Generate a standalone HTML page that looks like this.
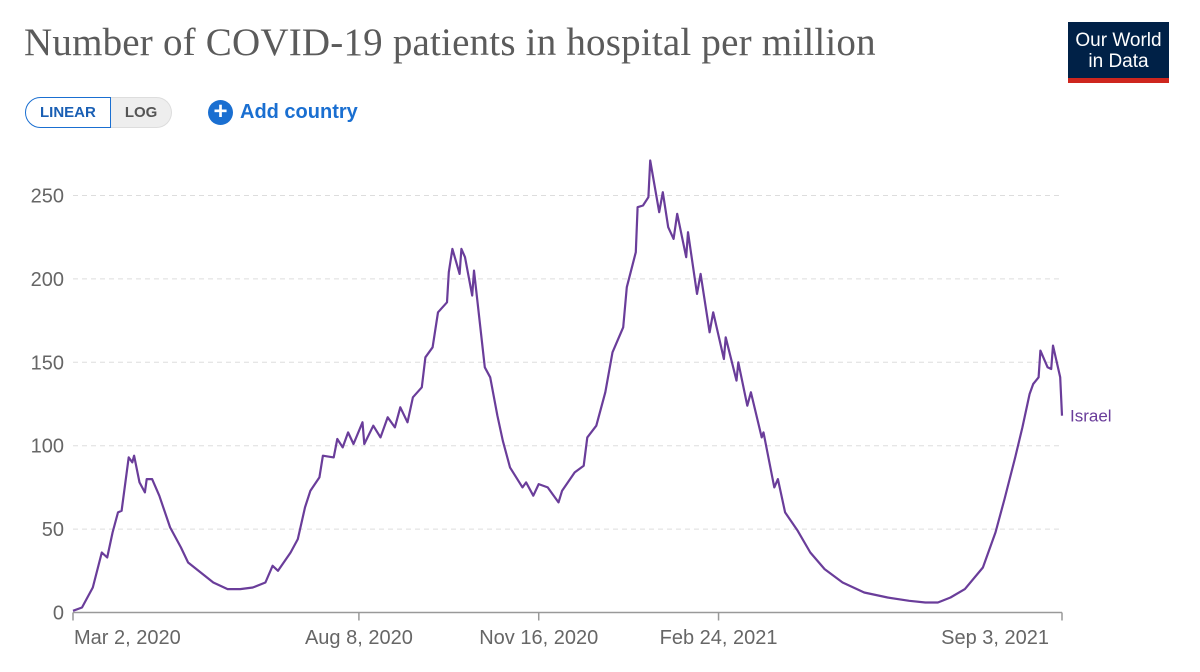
<!DOCTYPE html>
<html><head><meta charset="utf-8">
<style>
body{margin:0;background:#fff;width:1200px;height:672px;overflow:hidden;font-family:"Liberation Sans",sans-serif;}
#title{position:absolute;left:24px;top:20px;font-family:"Liberation Serif",serif;font-size:39px;color:#5b5b5b;letter-spacing:0.2px;}
#logo{position:absolute;left:1068px;top:22px;width:101px;height:61px;background:#002147;color:#fff;text-align:center;font-size:19px;line-height:21px;}
#logo .bar{position:absolute;left:0;bottom:0;width:100%;height:5px;background:#ce261e;}
#toggle{position:absolute;left:25px;top:97px;height:31px;display:flex;}
.tbtn{height:29px;line-height:29px;font-size:15px;font-weight:bold;padding:0 14px;}
#lin{border:1.5px solid #1a6fd1;border-radius:16px 0 0 16px;color:#1a5fb4;background:#fff;}
#log{border:1px solid #ddd;border-left:none;border-radius:0 16px 16px 0;color:#555;background:#eee;height:29px;}
#add{position:absolute;left:208px;top:100px;display:flex;align-items:center;color:#1a6fd1;font-weight:bold;font-size:20px;}
#add .ic{width:25px;height:25px;border-radius:50%;background:#1a6fd1;color:#fff;font-size:24px;line-height:24px;text-align:center;margin-right:7px;}
svg{position:absolute;left:0;top:0;}
</style></head><body>
<div id="title">Number of COVID-19 patients in hospital per million</div>
<div id="logo"><div style="padding-top:8px">Our World<br>in Data</div><div class="bar"></div></div>
<div id="toggle">
<div id="lin" class="tbtn">LINEAR</div>
<div id="log" class="tbtn">LOG</div></div>
<div id="add"><div class="ic">+</div>Add country</div>
<svg id="chart" width="1200" height="672"></svg>
<script>
const days=[0,5,11,16,19,22,25,27,31,33,34,37,40,41,44,48,54,60,64,71,78,86,93,100,107,111,114,121,125,129,132,137,139,145,147,150,153,156,161,162,167,171,175,179,182,186,189,194,196,200,203,208,209,211,215,216,218,222,223,229,232,236,239,243,250,252,256,259,264,268,270,272,279,284,286,291,294,296,300,306,308,313,314,317,320,321,326,328,331,334,336,341,342,347,349,354,356,362,363,369,370,375,377,383,384,390,392,396,403,410,418,428,440,453,465,474,481,488,496,506,513,518,524,528,532,534,537,538,542,544,545,549,550];
const values=[1,3,15,36,33,48,60,61,93,90,94,78,72,80,80,70,51,39,30,24,18,14,14,15,18,28,25,36,44,63,73,81,94,93,104,99,108,101,114,101,112,105,117,111,123,114,129,135,153,159,180,186,204,218,203,218,213,190,205,147,141,118,103,87,75,78,70,77,75,69,66,73,84,88,105,112,124,132,156,171,195,216,243,244,249,271,240,252,231,224,239,213,228,191,203,168,180,152,165,139,150,124,132,105,108,75,80,60,49,36,26,18,12,9,7,6,6,9,14,27,48,68,93,111,131,137,141,157,147,146,160,141,118];
const yTicks=[0,50,100,150,200,250];
const xTickDays=[0,159,259,359,550];
const xTickLabels=["Mar 2, 2020","Aug 8, 2020","Nov 16, 2020","Feb 24, 2021","Sep 3, 2021"];
const seriesName="Israel";
const svg=document.getElementById('chart');
const NS='http://www.w3.org/2000/svg';
const x0=73,x1=1062,y0=612.5,pxPer=83.4/50,maxDay=550;
function xs(d){return x0+(x1-x0)*d/maxDay;}
function ys(v){return y0-v*pxPer;}
function mk(t,a){const e=document.createElementNS(NS,t);for(const k in a)e.setAttribute(k,a[k]);svg.appendChild(e);return e;}
yTicks.forEach((v,i)=>{
 if(v>0){const g=mk('line',{x1:x0,x2:x1,y1:ys(v),y2:ys(v),stroke:'#ddd','stroke-dasharray':'5,4','stroke-width':1});
 
 }
 const t=mk('text',{x:64,y:ys(v)+7,'text-anchor':'end','font-size':20,fill:'#666','font-family':'Liberation Sans, sans-serif'});
 t.textContent=v;
 
 
});
const ax=mk('line',{x1:x0,x2:x1,y1:y0,y2:y0,stroke:'#999','stroke-width':1.5});


xTickDays.forEach((d,i)=>{
 const tk=mk('line',{x1:xs(d),x2:xs(d),y1:y0,y2:y0+8,stroke:'#999','stroke-width':1.5});
 
 
 let anchor='middle',xx=xs(d);
 if(i===0){anchor='start';xx=xs(d)+1;}
 if(i===xTickDays.length-1){anchor='end';xx=xs(d)-13;}
 const t=mk('text',{x:xx,y:644,'text-anchor':anchor,'font-size':20,fill:'#666','font-family':'Liberation Sans, sans-serif'});
 t.textContent=xTickLabels[i];
 
 
});
const pts=days.map((d,i)=>xs(d).toFixed(1)+','+ys(values[i]).toFixed(1)).join(' ');
const pl=mk('polyline',{points:pts,fill:'none',stroke:'#6a3d9a','stroke-width':2.2,'stroke-linejoin':'round'});


const lb=mk('text',{x:xs(days[days.length-1])+8,y:ys(values[values.length-1])+6,'font-size':17,fill:'#6a3d9a','font-family':'Liberation Sans, sans-serif'});
lb.textContent=seriesName;


</script>
</body></html>
